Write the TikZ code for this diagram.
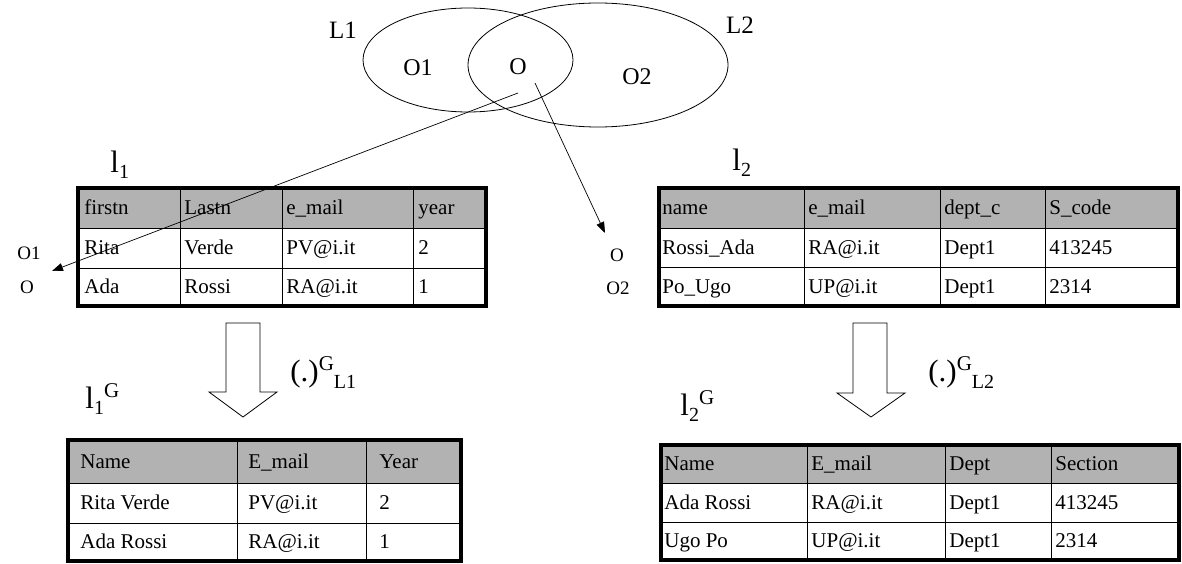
\documentclass[tikz,border=0pt]{standalone}
\usepackage{fontspec}
\setmainfont{Liberation Serif}
\usetikzlibrary{arrows.meta, shapes.geometric}

\newcommand{\lowtext}[1]{\raisebox{-6pt}{\fontsize{20}{20}\selectfont #1}}
\newcommand{\hightext}[1]{\raisebox{11pt}{\fontsize{21}{21}\selectfont #1}}

\begin{document}
\begin{tikzpicture}[x=1pt, y=-1pt, line width=0.8pt,
    cell/.style={anchor=base west, inner sep=0pt, font=\fontsize{21}{21}\selectfont},
    obj/.style={inner sep=0pt, font=\fontsize{19}{19}\selectfont},
    set/.style={ellipse, draw, inner sep=0pt},
    hdr/.style={fill=gray!60},
    frame/.style={line width=4pt},
    grid line/.style={line width=1pt},
    big/.style={anchor=base west, inner sep=0pt, font=\fontsize{31}{31}\selectfont},
    link/.style={-{Triangle[length=11pt, width=8pt]}, line width=0.7pt}]

    \useasboundingbox (0,0) rectangle (1182,564);

    % Sets of objects
    \node[set, minimum width=210pt, minimum height=104pt] (L1set) at (468,60) {};
    \node[set, minimum width=260pt, minimum height=124pt] (L2set) at (598,65) {};
    \node[inner sep=0pt, font=\fontsize{25}{25}\selectfont] (L1) at (343,30) {L1};
    \node[inner sep=0pt, font=\fontsize{25}{25}\selectfont] (L2) at (740,25) {L2};
    \node[inner sep=0pt, font=\fontsize{24}{24}\selectfont] (o1) at (418,68) {O1};
    \node[inner sep=0pt, font=\fontsize{24}{24}\selectfont] (o) at (518,67) {O};
    \node[inner sep=0pt, font=\fontsize{24}{24}\selectfont] (o2) at (637,77) {O2};
    \coordinate (oleft) at (518,93);
    \coordinate (oright) at (535,83);

    % First source
    \node[big] (l1) at (110,172) {l\lowtext{1}};
    \fill[hdr] (78,188) rectangle (486,228);
    \draw[grid line] (78,228) -- (486,228) (78,268) -- (486,268)
        (180,188) -- (180,306) (282,188) -- (282,306) (413,188) -- (413,306);
    \draw[frame] (78,188) rectangle (486,306);
    \node[cell] (t1h1) at (84,214) {firstn};
    \node[cell] (t1h2) at (184,214) {Lastn};
    \node[cell] (t1h3) at (286,214) {e\_mail};
    \node[cell] (t1h4) at (418,214) {year};
    \node[cell] (t1a1) at (84,254) {Rita};
    \node[cell] (t1a2) at (184,254) {Verde};
    \node[cell] (t1a3) at (286,254) {PV@i.it};
    \node[cell] (t1a4) at (418,254) {2};
    \node[cell] (t1b1) at (84,293) {Ada};
    \node[cell] (t1b2) at (184,293) {Rossi};
    \node[cell] (t1b3) at (286,293) {RA@i.it};
    \node[cell] (t1b4) at (418,293) {1};
    \node[obj] (p1) at (29,253) {O1};
    \node[obj] (p2) at (27,287) {O};
    \coordinate (tipleft) at (52,271);

    % Second source
    \node[big] (l2) at (732,171) {l\lowtext{2}};
    \fill[hdr] (659,188) rectangle (1178,228);
    \draw[grid line] (659,228) -- (1178,228) (659,267) -- (1178,267)
        (804,188) -- (804,306) (940,188) -- (940,306) (1045,188) -- (1045,306);
    \draw[frame] (659,188) rectangle (1178,306);
    \node[cell] (t2h1) at (662,214) {name};
    \node[cell] (t2h2) at (808,214) {e\_mail};
    \node[cell] (t2h3) at (944,214) {dept\_c};
    \node[cell] (t2h4) at (1049,214) {S\_code};
    \node[cell] (t2a1) at (662,254) {Rossi\_Ada};
    \node[cell] (t2a2) at (808,254) {RA@i.it};
    \node[cell] (t2a3) at (944,254) {Dept1};
    \node[cell] (t2a4) at (1049,254) {413245};
    \node[cell] (t2b1) at (662,293) {Po\_Ugo};
    \node[cell] (t2b2) at (808,293) {UP@i.it};
    \node[cell] (t2b3) at (944,293) {Dept1};
    \node[cell] (t2b4) at (1049,293) {2314};
    \node[obj] (q1) at (617,255) {O};
    \node[obj] (q2) at (618,288) {O2};
    \coordinate (tipright) at (605,233);

    \draw[link] (oleft) -- (tipleft);
    \draw[link] (oright) -- (tipright);

    % Mappings
    \draw (226,323) -- (260,323) -- (260,392) -- (277,392) -- (243,417)
        -- (209,392) -- (226,392) -- cycle;
    \draw (853,323) -- (887,323) -- (887,393) -- (905,393) -- (871,417)
        -- (837,393) -- (853,393) -- cycle;
    \node[big] (m1) at (290,381) {(.)\hightext{G}\raisebox{-7pt}{\fontsize{20}{20}\selectfont L1}};
    \node[big] (m2) at (928,381) {(.)\hightext{G}\raisebox{-7pt}{\fontsize{20}{20}\selectfont L2}};

    % First global view
    \node[big] (g1) at (85,408) {l\lowtext{1}\hightext{G}};
    \fill[hdr] (68,440) rectangle (461,483);
    \draw[grid line] (68,483) -- (461,483) (68,523) -- (461,523)
        (237,440) -- (237,561) (366,440) -- (366,561);
    \draw[frame] (68,440) rectangle (461,561);
    \node[cell] (t3h1) at (80,468) {Name};
    \node[cell] (t3h2) at (248,468) {E\_mail};
    \node[cell] (t3h3) at (379,468) {Year};
    \node[cell] (t3a1) at (80,509) {Rita Verde};
    \node[cell] (t3a2) at (248,509) {PV@i.it};
    \node[cell] (t3a3) at (379,509) {2};
    \node[cell] (t3b1) at (80,548) {Ada Rossi};
    \node[cell] (t3b2) at (248,548) {RA@i.it};
    \node[cell] (t3b3) at (379,548) {1};

    % Second global view
    \node[big] (g2) at (680,415) {l\lowtext{2}\hightext{G}};
    \fill[hdr] (661,445) rectangle (1179,483);
    \draw[grid line] (661,483) -- (1179,483) (661,522) -- (1179,522)
        (807,445) -- (807,560) (945,445) -- (945,560) (1051,445) -- (1051,560);
    \draw[frame] (661,445) rectangle (1179,560);
    \node[cell] (t4h1) at (664,470) {Name};
    \node[cell] (t4h2) at (811,470) {E\_mail};
    \node[cell] (t4h3) at (949,470) {Dept};
    \node[cell] (t4h4) at (1055,470) {Section};
    \node[cell] (t4a1) at (664,509) {Ada Rossi};
    \node[cell] (t4a2) at (811,509) {RA@i.it};
    \node[cell] (t4a3) at (949,509) {Dept1};
    \node[cell] (t4a4) at (1055,509) {413245};
    \node[cell] (t4b1) at (664,547) {Ugo Po};
    \node[cell] (t4b2) at (811,547) {UP@i.it};
    \node[cell] (t4b3) at (949,547) {Dept1};
    \node[cell] (t4b4) at (1055,547) {2314};

\end{tikzpicture}
\end{document}
